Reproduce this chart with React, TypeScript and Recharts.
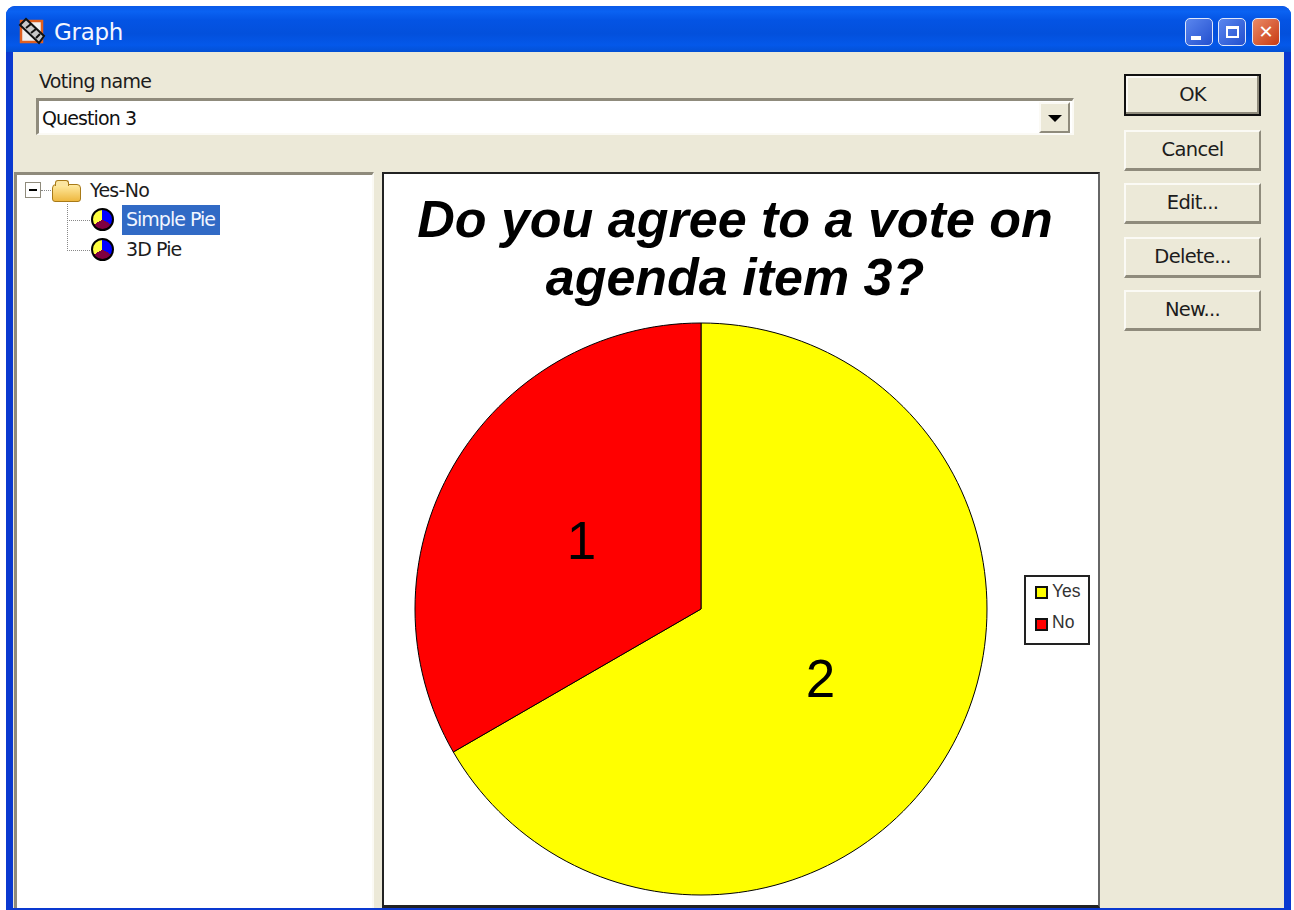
import React from 'react';
import { PieChart, Pie, Cell, Legend } from 'recharts';

const categories = ['Yes', 'No'];
const votes = [2, 1];
const sliceColors = ['#ffff00', '#ff0000'];
const titleLines = ['Do you agree to a vote on', 'agenda item 3?'];
const buttonLabels = ['OK', 'Cancel', 'Edit...', 'Delete...', 'New...'];
const treeLeaves = ['Simple Pie', '3D Pie'];

const pieData = categories.map((name, i) => ({ name, value: votes[i] }));

const UI = '"DejaVu Sans", Tahoma, sans-serif';
const face = '#ece9d8';

const abs = (left: number, top: number, width: number, height: number, extra: React.CSSProperties = {}): React.CSSProperties => ({
  position: 'absolute', left, top, width, height, boxSizing: 'border-box', ...extra,
});

const Txt = ({ x, y, children, size = 19, color = '#1c1c1c', spacing = -0.7 }: any) => (
  <div style={{ position: 'absolute', left: x, top: y, fontFamily: UI, fontSize: size, lineHeight: '24px', color, letterSpacing: spacing, whiteSpace: 'nowrap' }}>{children}</div>
);

const PieIcon = ({ x, y }: { x: number; y: number }) => (
  <div style={abs(x, y, 23, 23, {
    borderRadius: '50%', border: '2px solid #000',
    background: 'conic-gradient(#0000ff 0 120deg, #800040 120deg 240deg, #ffff40 240deg 360deg)',
  })} />
);

const WinBtn = ({ x, bg, children }: any) => (
  <div style={abs(x, 18, 28, 28, { borderRadius: 5, border: '1.5px solid #dfe8fb', background: bg, display: 'flex', alignItems: 'center', justifyContent: 'center' })}>{children}</div>
);

const btnTops = [74, 130, 183, 237, 290];
const btnHeights = [42, 41, 41, 41, 41];

const renderLabel = ({ cx, cy, midAngle, value }: any) => {
  const r = 138;
  const a = (-midAngle * Math.PI) / 180;
  return (
    <text x={cx + r * Math.cos(a)} y={cy + r * Math.sin(a)} textAnchor="middle" dominantBaseline="central"
      fontFamily='"Liberation Sans", Arial, sans-serif' fontSize={53} fill="#000">{value}</text>
  );
};

const LegendBox = ({ payload }: any) => (
  <div style={{ width: 66, height: 70, boxSizing: 'border-box', border: '2px solid #222', background: '#fff', position: 'relative' }}>
    {(payload || []).map((p: any, i: number) => (
      <React.Fragment key={p.value}>
        <div style={abs(9, 9 + i * 32, 13, 13, { background: sliceColors[categories.indexOf(p.value)], border: '2px solid #111' })} />
        <div style={{ position: 'absolute', left: 26, top: 3 + i * 31, fontFamily: '"Liberation Sans", Arial, sans-serif', fontSize: 17.5, lineHeight: '22px', color: '#333' }}>{p.value}</div>
      </React.Fragment>
    ))}
  </div>
);

export default function App() {
  return (
    <div style={abs(0, 0, 1294, 910, { position: 'fixed', background: '#fff', overflow: 'hidden' })}>
      {/* window frame */}
      <div style={abs(6, 6, 1285, 904, { background: '#0a39d0', borderRadius: '9px 9px 0 0' })} />
      <div style={abs(6, 6, 1285, 46, {
        borderRadius: '9px 9px 0 0',
        background: 'linear-gradient(180deg,#0a5ae8 0%,#0a62f2 12%,#0454e4 30%,#0350dc 60%,#0458ea 85%,#0350d4 100%)',
      })} />
      <div style={abs(13, 52, 1271, 856, { background: face })} />

      {/* title bar */}
      <svg style={{ position: 'absolute', left: 17, top: 16 }} width={30} height={30} viewBox="0 0 30 30">
        <rect x="4" y="5" width="21" height="21" fill="#f0f0f0" stroke="#e06020" strokeWidth="2.5" />
        <path d="M3 9 L9 3 L27 20 L22 27 Z" fill="#c8c8c8" stroke="#111" strokeWidth="2" />
        <path d="M9 12 L14 8 M14 17 L19 13 M19 22 L23 18" stroke="#111" strokeWidth="2" />
      </svg>
      <Txt x={54} y={20} size={23} color="#f4f6ff" spacing={-0.3}>Graph</Txt>
      <WinBtn x={1185} bg="linear-gradient(135deg,#5a86ee,#2350cf)">
        <div style={{ width: 10, height: 4, background: '#fff', marginTop: 12, marginRight: 6 }} />
      </WinBtn>
      <WinBtn x={1218} bg="linear-gradient(135deg,#5a86ee,#2350cf)">
        <div style={{ width: 13, height: 12, border: '2px solid #fff', borderTopWidth: 3, boxSizing: 'border-box' }} />
      </WinBtn>
      <WinBtn x={1252} bg="linear-gradient(135deg,#ea8a66,#c83a12)">
        <span style={{ color: '#fff', fontFamily: UI, fontWeight: 700, fontSize: 18, lineHeight: '18px' }}>✕</span>
      </WinBtn>

      {/* voting name */}
      <Txt x={39} y={69}>Voting name</Txt>
      <div style={abs(36, 98, 1038, 37, {
        background: '#fff', borderTop: '3px solid #8f8b7c', borderLeft: '3px solid #8f8b7c',
        borderRight: '2px solid #fbfaf5', borderBottom: '2px solid #fbfaf5',
      })} />
      <Txt x={42} y={106} color="#111" spacing={-0.9}>Question 3</Txt>
      <div style={abs(1039, 102, 31, 31, {
        background: face, borderTop: '2px solid #fbfaf5', borderLeft: '2px solid #fbfaf5',
        borderRight: '2px solid #8f8b7c', borderBottom: '2px solid #8f8b7c',
      })} />
      <div style={{ position: 'absolute', left: 1048, top: 115, width: 0, height: 0, borderLeft: '7px solid transparent', borderRight: '7px solid transparent', borderTop: '7px solid #000' }} />

      {/* tree */}
      <div style={abs(14, 172, 360, 736, {
        background: '#fff', borderTop: '3px solid #8f8b7c', borderLeft: '3px solid #8f8b7c', borderRight: '2px solid #fbfaf5',
      })} />
      <div style={abs(25, 182, 16, 16, { border: '1.5px solid #8f8b7c', background: '#fff' })} />
      <div style={abs(29, 189, 8, 2, { background: '#000' })} />
      <div style={abs(41, 190, 12, 0, { borderTop: '1px dotted #888' })} />
      <div style={abs(67, 204, 0, 47, { borderLeft: '1px dotted #888' })} />
      <div style={abs(67, 220, 23, 0, { borderTop: '1px dotted #888' })} />
      <div style={abs(67, 250, 23, 0, { borderTop: '1px dotted #888' })} />
      <div style={abs(52, 184, 29, 18, { background: 'linear-gradient(180deg,#ffeaa0,#eeb840)', border: '1.5px solid #a87a18', borderRadius: '4px 4px 3px 3px' })} />
      <div style={abs(55, 180, 14, 6, { background: '#fbe5a0', border: '1px solid #a87a18', borderBottom: 'none', borderRadius: '3px 3px 0 0' })} />
      <Txt x={90} y={178}>Yes-No</Txt>
      <PieIcon x={91} y={208} />
      <PieIcon x={91} y={238} />
      <div style={abs(122, 205, 98, 30, { background: '#316ac5' })} />
      <Txt x={126} y={207} color="#f2f6ff" spacing={-1}>{treeLeaves[0]}</Txt>
      <Txt x={126} y={237} spacing={-0.9}>{treeLeaves[1]}</Txt>

      {/* chart panel */}
      <div style={abs(382, 172, 718, 736, { background: '#fff', border: '2px solid #222', borderBottomWidth: 3, borderRightColor: '#666' })} />
      {titleLines.map((t, i) => (
        <div key={t} style={{ position: 'absolute', left: 384, width: 702, top: 189 + i * 58, textAlign: 'center', fontFamily: '"Liberation Sans", Arial, sans-serif', fontWeight: 700, fontStyle: 'italic', fontSize: 52, lineHeight: '60px', color: '#000', whiteSpace: 'nowrap' }}>{t}</div>
      ))}
      <div style={abs(384, 174, 714, 732)}>
        <PieChart width={714} height={732} margin={{ top: 0, right: 0, bottom: 0, left: 0 }}>
          <Pie data={pieData} dataKey="value" nameKey="name" cx={317} cy={435} outerRadius={286} innerRadius={0}
            startAngle={90} endAngle={-270} stroke="#000" strokeWidth={1} isAnimationActive={false}
            label={renderLabel} labelLine={false}>
            {pieData.map((d, i) => <Cell key={d.name} fill={sliceColors[i]} />)}
          </Pie>
          <Legend layout="vertical" itemSorter={null} content={<LegendBox />} wrapperStyle={{ position: 'absolute', left: 640, top: 401, width: 66, height: 70 }} />
        </PieChart>
      </div>

      {/* buttons */}
      {buttonLabels.map((b, i) => (
        <div key={b} style={abs(1124, btnTops[i], 137, btnHeights[i], {
          background: face, display: 'flex', alignItems: 'center', justifyContent: 'center', paddingBottom: 1,
          fontFamily: UI, fontSize: 19.5, letterSpacing: -0.7, color: '#1c1c1c',
          borderTop: i === 0 ? '2px solid #111' : '2px solid #fbfaf5', borderLeft: i === 0 ? '2px solid #111' : '2px solid #fbfaf5',
          borderRight: i === 0 ? '2px solid #111' : '2px solid #8f8b7c', borderBottom: i === 0 ? '2px solid #111' : '3px solid #8f8b7c',
          boxShadow: i === 0 ? 'inset -2px -2px 0 #8f8b7c, inset 2px 2px 0 #fbfaf5' : 'none',
        })}>{b}</div>
      ))}
    </div>
  );
}
